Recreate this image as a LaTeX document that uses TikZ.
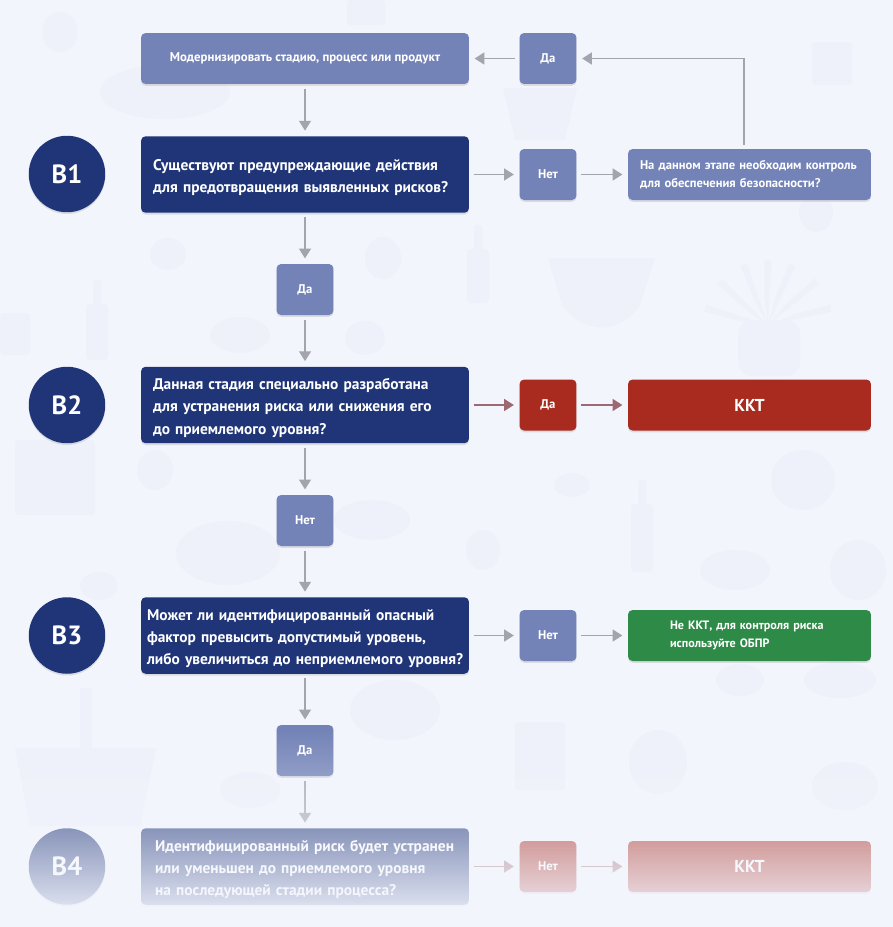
\documentclass[tikz,border=0pt]{standalone}
\usepackage{fontspec}
\setmainfont{PT Sans}
\usetikzlibrary{arrows.meta,calc,fadings,shadows}

\definecolor{pagebg}{HTML}{F3F5FD}
\definecolor{foodshape}{HTML}{EFF1FA}
\definecolor{navybox}{HTML}{1F3578}
\definecolor{paleblue}{HTML}{7383B7}
\definecolor{redbox}{HTML}{A92B20}
\definecolor{greenbox}{HTML}{2D8A47}
\definecolor{flowgray}{HTML}{A3A4AE}
\definecolor{flowred}{HTML}{9C6872}

\tikzfading[name=fadebottom, top color=transparent!100, middle color=transparent!60, bottom color=transparent!0]

\begin{document}
\begin{tikzpicture}[x=0.02cm, y=-0.02cm,
  softshadow/.style={drop shadow={opacity=.22, shadow xshift=0pt, shadow yshift=-1pt}},
  box/.style={rectangle, rounded corners=2.6pt, softshadow, text=white, font=\bfseries, inner sep=0pt, align=left},
  question/.style={box, fill=navybox, minimum width=6.56cm, minimum height=1.53cm, font=\bfseries\fontsize{8.77}{12.7}\selectfont, execute at begin node={\rule{0pt}{9.6pt}}},
  answer/.style={box, fill=paleblue, minimum width=1.14cm, minimum height=1.02cm, align=center, font=\bfseries\fontsize{7.2}{9}\selectfont},
  result/.style={box, minimum width=4.86cm, minimum height=1.02cm},
  stagemark/.style={circle, fill=navybox, softshadow, minimum size=1.53cm, inner sep=0pt, text=white, font=\bfseries\fontsize{15}{17}\selectfont},
  flow/.style={draw=flowgray, line width=1.1pt, shorten >=3pt, shorten <=2.5pt, -{Triangle[length=5.6pt,width=6.8pt]}},
  flowdown/.style={flow, line width=.8pt}]

%─────────────
% Page and faint food shapes
%─────────────
\fill[pagebg] (0,0) rectangle (893,927);
\begin{scope}[foodshape]
  % ovals and round fruit: x/y/rx/ry
  \foreach \fx/\fy/\frx/\fry in {60/32/18/20, 165/92/65/27, 168/254/18/16, 383/258/18/21,
      816/212/17/20, 365/338/20/17, 240/335/30/18, 155/470/18/20, 803/480/32/30, 572/485/18/12,
      372/520/38/20, 483/550/17/20, 228/553/52/32, 99/586/19/14, 735/570/35/20, 858/570/28/30,
      395/710/45/30, 658/762/29/32, 845/786/33/24, 250/790/30/18, 740/680/24/16, 840/680/36/18}
    \fill (\fx,\fy) ellipse ({\frx} and {\fry});
  % jars and crates
  \fill[rounded corners=2pt] (347,0) rectangle (385,25);
  \fill[rounded corners=2pt] (812,42) rectangle (852,85);
  \fill[rounded corners=2pt] (0,313) rectangle (30,355);
  \fill[rounded corners=2pt] (15,440) rectangle (95,515);
  \fill[rounded corners=2pt] (515,722) rectangle (565,790);
  % bottles
  \foreach \bx/\btop/\bbot in {97/280/360, 478/225/303, 642/480/572} {
    \fill[rounded corners=1pt] (\bx-4,\btop) rectangle (\bx+4,\btop+26);
    \fill[rounded corners=2pt] (\bx-11,\btop+24) rectangle (\bx+11,\bbot);
  }
  % small basket under the top answer
  \fill (503,88) -- (577,88) -- (565,140) -- (515,140) -- cycle;
  % bowl
  \fill (548,258) -- (655,258) -- (640,305) .. controls (620,335) and (585,335) .. (562,305) -- cycle;
  % pineapple
  \foreach \leaf in {195,222,248,270,292,318,345}
    \fill (768,325) -- ++(\leaf-7:28) -- ++(\leaf:38) -- ++(\leaf+100:7) -- cycle;
  \fill[rounded corners=8pt] (738,320) rectangle (800,376);
  % big basket
  \fill (80,688) rectangle (92,750);
  \fill (15,748) -- (156,748) -- (140,826) -- (30,826) -- cycle;
\end{scope}

%─────────────
% Stage marks
%─────────────
\foreach \mname/\mlabel/\my in {m1/В1/174, m2/В2/405, m3/В3/635.5, m4/В4/866.5}
  \node[stagemark] (\mname) at (67,\my) {\mlabel};

%─────────────
% Questions
%─────────────
\node[box, fill=paleblue, minimum width=6.56cm, minimum height=1.02cm, align=center, font=\bfseries\fontsize{7.28}{9}\selectfont] (redo) at (305,58.5) {Модернизировать стадию, процесс или продукт};
\node[question, text width=6.08cm] (q1) at (305,174.5) {Существуют предупреждающие действия\\для предотвращения выявленных рисков?};
\node[question, text width=6.08cm] (q2) at (305,405) {Данная стадия специально разработана\\для устранения риска или снижения его\\до приемлемого уровня?};
\node[question, text width=6.32cm] (q3) at (305,635.5) {Может ли идентифицированный опасный\\фактор превысить допустимый уровень,\\\mbox{либо увеличиться до неприемлемого уровня?}};
\node[question, text width=6.0cm] (q4) at (305,866.5) {Идентифицированный риск будет устранен\\или уменьшен до приемлемого уровня\\на последующей стадии процесса?};

%─────────────
% Answers
%─────────────
\node[answer] (yes0) at (548,58.5) {Да};
\node[answer] (no1) at (548,174.5) {Нет};
\node[answer] (yes1) at (305,289.5) {Да};
\node[answer, fill=redbox] (yes2) at (548,405) {Да};
\node[answer] (no2) at (305,520.5) {Нет};
\node[answer] (no3) at (548,635.5) {Нет};
\node[answer] (yes3) at (305,750.5) {Да};
\node[answer, fill=redbox] (no4) at (548,866.5) {Нет};

%─────────────
% Results
%─────────────
\node[result, fill=paleblue, text width=4.38cm, font=\bfseries\fontsize{7.17}{10.2}\selectfont] (control) at (749.5,174.5) {На данном этапе необходим контроль\\для обеспечения безопасности?};
\node[result, fill=redbox, align=center, font=\bfseries\fontsize{9.8}{11}\selectfont] (ccp2) at (749.5,405) {ККТ};
\node[result, fill=greenbox, text width=3.18cm, font=\bfseries\fontsize{6.9}{9.8}\selectfont] (notccp) at (749.5,635.5) {Не ККТ, для контроля риска\\используйте ОБПР};
\node[result, fill=redbox, align=center, font=\bfseries\fontsize{9.8}{11}\selectfont] (ccp4) at (749.5,866.5) {ККТ};

%─────────────
% Connectors
%─────────────
\foreach \a/\b in {redo/q1, q1/yes1, yes1/q2, q2/no2, no2/q3, q3/yes3, yes3/q4}
  \draw[flowdown] (\a) -- (\b);
\foreach \a/\b in {yes0/redo, q1/no1, no1/control, q3/no3, no3/notccp}
  \draw[flow] (\a) -- (\b);
\foreach \a/\b in {q2/yes2, yes2/ccp2, q4/no4, no4/ccp4}
  \draw[flow, draw=flowred] (\a) -- (\b);
\coordinate (back) at (744,149);
\draw[flow] (back) |- (yes0);

% bottom of the page dissolves into the background
\fill[pagebg, path fading=fadebottom] (0,730) rectangle (893,927);

\useasboundingbox (0,0) rectangle (893,927);
\end{tikzpicture}
\end{document}
